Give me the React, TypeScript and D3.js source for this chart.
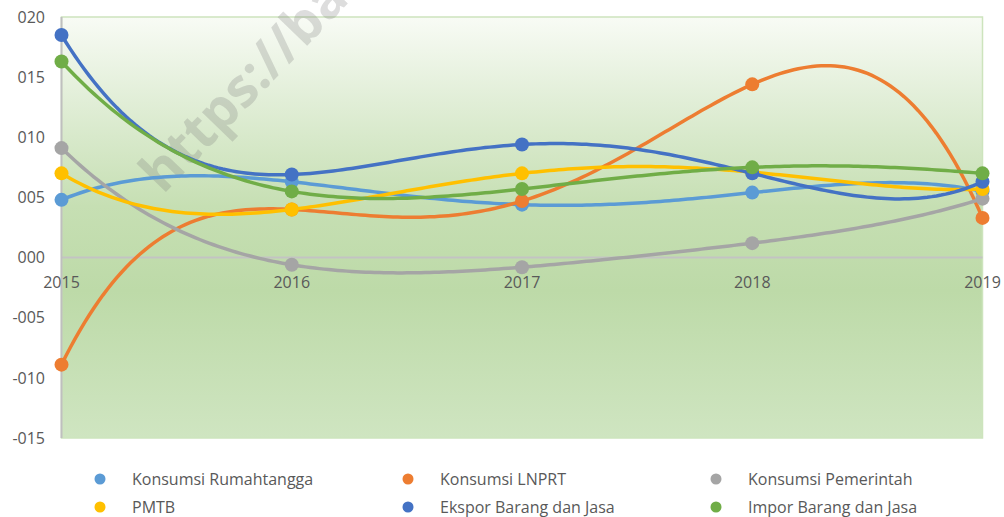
import React from "react";
import * as d3 from "d3";

const years = ["2015", "2016", "2017", "2018", "2019"];
const rumahtangga = [0.0048, 0.0063, 0.0044, 0.0054, 0.0055];
const lnprt = [-0.0089, 0.004, 0.0047, 0.0144, 0.0033];
const pemerintah = [0.0091, -0.0006, -0.0008, 0.0012, 0.0049];
const pmtb = [0.007, 0.004, 0.007, 0.0071, 0.0057];
const ekspor = [0.0185, 0.0069, 0.0094, 0.007, 0.0063];
const impor = [0.0163, 0.0055, 0.0057, 0.0075, 0.007];

const yTicks = [0.02, 0.015, 0.01, 0.005, 0, -0.005, -0.01, -0.015];
const yTickLabels = ["020", "015", "010", "005", "000", "-005", "-010", "-015"];

const seriesNames = [
  "Konsumsi Rumahtangga",
  "Konsumsi LNPRT",
  "Konsumsi Pemerintah",
  "PMTB",
  "Ekspor Barang dan Jasa",
  "Impor Barang dan Jasa",
];
const seriesValues = [rumahtangga, lnprt, pemerintah, pmtb, ekspor, impor];
const colors = ["#5B9BD5", "#ED7D31", "#A5A5A5", "#FFC000", "#4472C4", "#70AD47"];

const W = 1004;
const H = 517;
const plot = { left: 61.5, right: 982.5, top: 17, bottom: 438 };
const FONT = "'Open Sans', sans-serif";
const TXT = "#595959";

// Polynomial (Lagrange) interpolation through all points of a series
function lagrange(vals: number[], x: number): number {
  let s = 0;
  for (let i = 0; i < vals.length; i++) {
    let p = vals[i];
    for (let j = 0; j < vals.length; j++) {
      if (j !== i) p *= (x - j) / (i - j);
    }
    s += p;
  }
  return s;
}

export default function App() {
  const x = d3.scaleLinear().domain([0, years.length - 1]).range([plot.left, plot.right]);
  const y = d3.scaleLinear().domain([-0.015, 0.02]).range([plot.bottom, plot.top]);

  const line = d3
    .line<[number, number]>()
    .x((d) => x(d[0]))
    .y((d) => y(d[1]));

  const samples = d3.range(0, years.length - 1 + 1e-9, 0.02);

  const legendCols = [100, 408, 716];
  const legendRows = [479, 507];

  return (
    <svg
      width={W}
      height={H}
      style={{ position: "absolute", left: 0, top: 0, display: "block", background: "#fff" }}
    >
      <defs>
        <linearGradient id="bg" x1="0" y1="0" x2="0" y2="1">
          <stop offset="0" stopColor="#F8FBF5" />
          <stop offset="0.2" stopColor="#E1EED7" />
          <stop offset="0.45" stopColor="#C6DFB3" />
          <stop offset="0.65" stopColor="#BDDAA8" />
          <stop offset="1" stopColor="#CFE5C1" />
        </linearGradient>
      </defs>

      <rect
        x={plot.left}
        y={plot.top}
        width={plot.right - plot.left}
        height={plot.bottom - plot.top}
        fill="url(#bg)"
        stroke="#CDE4BD"
        strokeWidth={1.5}
      />

      {/* watermark */}
      <text
        transform="translate(163,195) rotate(-46)"
        fontFamily={FONT}
        fontWeight="bold"
        fontSize={54}
        fill="rgba(120,120,120,0.25)"
      >
        https://ba
      </text>

      {/* zero line */}
      <line x1={plot.left} x2={plot.right} y1={y(0)} y2={y(0)} stroke="#C3C3C3" strokeWidth={2} />
      {/* y axis line */}
      <line x1={plot.left} x2={plot.left} y1={plot.top} y2={plot.bottom} stroke="#BFBFBF" strokeWidth={2} />

      {yTicks.map((t, i) => (
        <text
          key={"yt" + i}
          x={45}
          y={y(t)}
          dy="0.36em"
          textAnchor="end"
          fontFamily={FONT}
          fontSize={16}
          fill={TXT}
        >
          {yTickLabels[i]}
        </text>
      ))}

      {years.map((yr, i) => (
        <text
          key={"xt" + i}
          x={x(i)}
          y={288}
          textAnchor="middle"
          fontFamily={FONT}
          fontSize={16}
          fill={TXT}
        >
          {yr}
        </text>
      ))}

      {seriesValues.map((vals, si) => {
        const pts: [number, number][] = samples.map((s) => [s, lagrange(vals, s)]);
        return (
          <g key={"s" + si}>
            <path d={line(pts) || ""} fill="none" stroke={colors[si]} strokeWidth={3.5} strokeLinecap="round" />
            {vals.map((v, i) => (
              <circle key={i} cx={x(i)} cy={y(v)} r={7} fill={colors[si]} />
            ))}
          </g>
        );
      })}

      {seriesNames.map((name, i) => {
        const cx = legendCols[i % 3];
        const cy = legendRows[Math.floor(i / 3)];
        return (
          <g key={"lg" + i}>
            <circle cx={cx} cy={cy} r={5.5} fill={colors[i]} />
            <text x={cx + 32} y={cy} dy="0.36em" fontFamily={FONT} fontSize={16} fill={TXT}>
              {name}
            </text>
          </g>
        );
      })}
    </svg>
  );
}
